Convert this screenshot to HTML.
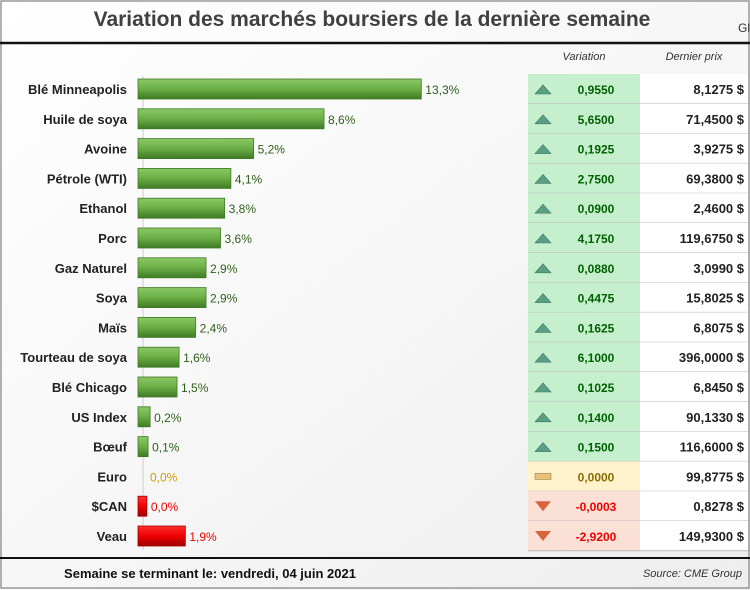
<!DOCTYPE html>
<html><head><meta charset="utf-8">
<style>
body{margin:0;background:#fff;}
svg{display:block;font-family:"Liberation Sans",sans-serif;}
</style></head>
<body>
<svg id="c" width="750" height="590" viewBox="0 0 750 590">
<defs>
<linearGradient id="bg" x1="0" y1="0" x2="1" y2="1"><stop offset="0" stop-color="#ffffff"/><stop offset="1" stop-color="#eeeeee"/></linearGradient>
<linearGradient id="gG" x1="0" y1="0" x2="0" y2="1"><stop offset="0" stop-color="#8cc866"/><stop offset="0.5" stop-color="#6aae45"/><stop offset="1" stop-color="#3f7a25"/></linearGradient>
<linearGradient id="gR" x1="0" y1="0" x2="0" y2="1"><stop offset="0" stop-color="#ff3030"/><stop offset="0.5" stop-color="#ee0000"/><stop offset="1" stop-color="#a00000"/></linearGradient>
</defs>
<rect x="0" y="0" width="750" height="590" fill="url(#bg)"/>
<rect x="1" y="1" width="748" height="587" fill="none" stroke="#999" stroke-width="1.5"/>
<text x="372" y="26" text-anchor="middle" font-size="21" font-weight="bold" fill="#404040">Variation des marchés boursiers de la dernière semaine</text>
<text x="738" y="32" font-size="12" fill="#333">Gl</text>
<line x1="0" y1="43" x2="750" y2="43" stroke="#111" stroke-width="2.5"/>
<text x="584" y="60" text-anchor="middle" font-size="11" font-style="italic" fill="#333">Variation</text>
<text x="694" y="60" text-anchor="middle" font-size="11" font-style="italic" fill="#333">Dernier prix</text>
<line x1="143" y1="76" x2="143" y2="550" stroke="#ccc" stroke-width="1"/>
<g id="rows"></g>
<line x1="0" y1="558" x2="750" y2="558" stroke="#111" stroke-width="2"/>
<text x="210" y="578" text-anchor="middle" font-size="13" font-weight="bold" fill="#111">Semaine se terminant le:  vendredi, 04 juin 2021</text>
<text x="742" y="577" text-anchor="end" font-size="11" font-style="italic" fill="#333">Source: CME Group</text>
</svg>
<script>
const categories=["Blé Minneapolis","Huile de soya","Avoine","Pétrole (WTI)","Ethanol","Porc","Gaz Naturel","Soya","Maïs","Tourteau de soya","Blé Chicago","US Index","Bœuf","Euro","$CAN","Veau"];
const pctValues=[13.3,8.6,5.2,4.1,3.8,3.6,2.9,2.9,2.4,1.6,1.5,0.2,0.1,0.0,-0.04,-1.9];
const variations=[0.9550,5.6500,0.1925,2.7500,0.0900,4.1750,0.0880,0.4475,0.1625,6.1000,0.1025,0.1400,0.1500,0.0000,-0.0003,-2.9200];
const prices=[8.1275,71.4500,3.9275,69.3800,2.4600,119.6750,3.0990,15.8025,6.8075,396.0000,6.8450,90.1330,116.6000,99.8775,0.8278,149.9300];
const NS="http://www.w3.org/2000/svg";
const g=document.getElementById('rows');
const x0=138, pxPer=20.7, base=8;
const y0=89, step=29.8;
function yPos(i){return y0+i*step;}
function wBar(v){return v===0?0:base+Math.abs(v)*pxPer;}
function fmt(v,d){return v.toFixed(d).replace('.',',');}
function el(t,a,txt){const e=document.createElementNS(NS,t);for(const k in a)e.setAttribute(k,a[k]);if(txt!==undefined)e.textContent=txt;g.appendChild(e);return e;}
categories.forEach((c,i)=>{
  const y=yPos(i), v=pctValues[i], w=wBar(v);
  const pos=v>0, zero=v===0;
  const col=zero?'#c9a000':(pos?'#2e5e1a':'#ee0000');
  const lab=el('text',{x:127,y:y+5,'text-anchor':'end','font-size':13,'font-weight':'bold',fill:'#222'},c);
  
  
  if(w>0){
    const b=el('rect',{x:x0,y:y-10,width:w,height:20,fill:pos?'url(#gG)':'url(#gR)',stroke:pos?'#3f7a25':'#a00000','stroke-width':0.8});
    
    
  }
  const vl=el('text',{x:x0+Math.max(w,8)+4,y:y+5,'font-size':12,fill:col},fmt(Math.abs(v),1)+'%');
  
  
  const vv=variations[i];
  const bgc=vv>0?'#c6efce':(vv===0?'#fff2cc':'#fbe0d6');
  const cell=el('rect',{x:528,y:y-15,width:112,height:step,fill:bgc});
  
  
  const pc=el('rect',{x:640,y:y-15,width:108,height:step,fill:'#fff'});
  
  
  el('line',{x1:528,y1:y+14.8,x2:748,y2:y+14.8,stroke:'#bbb','stroke-width':1});
  let ic;
  if(vv>0) ic=el('polygon',{points:`535,${y+5} 543,${y-4} 551,${y+5}`,fill:'#5a9e85',stroke:'#3f7a65','stroke-width':0.6});
  else if(vv===0) ic=el('rect',{x:535,y:y-3,width:16,height:6,fill:'#e6c27a',stroke:'#a08040','stroke-width':0.6});
  else ic=el('polygon',{points:`535,${y-5} 543,${y+5} 551,${y-5}`,fill:'#d9633c'});
  
  
  const vt=el('text',{x:596,y:y+5,'text-anchor':'middle','font-size':12,'font-weight':'bold',fill:vv>0?'#006100':(vv===0?'#8a6d00':'#ee0000')},fmt(vv,4));
  
  
  const pt=el('text',{x:744,y:y+5,'text-anchor':'end','font-size':13,'font-weight':'bold',fill:'#222'},fmt(prices[i],4)+' $');
  
  
});
</script>
</body></html>
